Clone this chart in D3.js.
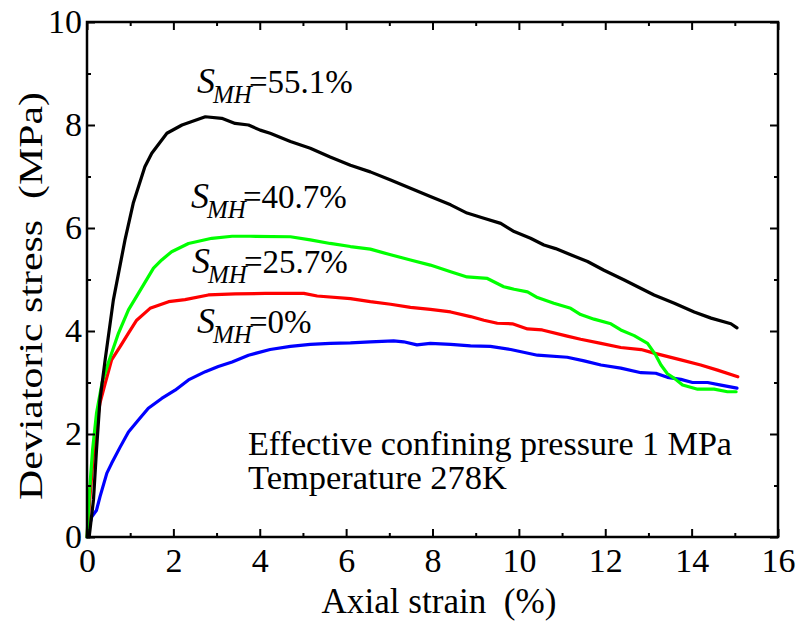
<!DOCTYPE html>
<html>
<head>
<meta charset="utf-8">
<script src="https://cdn.jsdelivr.net/npm/d3@7"></script>
<style>
  body { margin: 0; background: #fff; }
  svg { display: block; }
</style>
</head>
<body>
<svg id="chart" width="801" height="632" font-family="Liberation Serif"></svg>
<script>
// ---- data ----
const strain55 = [0.05, 0.15, 0.22, 0.3, 0.42, 0.61, 0.88, 1.07, 1.34, 1.5, 1.85, 2.2, 2.74, 3.12, 3.43, 3.74, 4.01, 4.24, 4.71, 5.17, 5.63, 6.1, 6.56, 7.03, 7.49, 7.95, 8.42, 8.8, 9.19, 9.58, 9.89, 10.27, 10.58, 10.85, 11.2, 11.59, 11.97, 12.44, 12.75, 13.13, 13.6, 14.06, 14.45, 14.91, 15.05];
const stress55 = [0, 0.72, 1.69, 2.66, 3.44, 4.6, 5.77, 6.48, 7.19, 7.45, 7.84, 8.0, 8.16, 8.13, 8.03, 8.0, 7.9, 7.84, 7.68, 7.55, 7.38, 7.22, 7.09, 6.93, 6.77, 6.61, 6.45, 6.29, 6.19, 6.09, 5.93, 5.8, 5.67, 5.6, 5.48, 5.35, 5.18, 4.99, 4.86, 4.7, 4.54, 4.37, 4.25, 4.14, 4.06];

const strain40 = [0, 0.06, 0.13, 0.22, 0.35, 0.5, 0.73, 0.96, 1.19, 1.54, 1.73, 1.96, 2.35, 2.89, 3.36, 3.78, 4.71, 5.17, 5.63, 6.1, 6.56, 7.03, 7.49, 7.95, 8.42, 8.8, 9.27, 9.65, 9.89, 10.2, 10.43, 10.81, 11.2, 11.43, 11.74, 12.13, 12.36, 12.67, 12.98, 13.17, 13.29, 13.44, 13.6, 13.79, 14.14, 14.52, 14.83, 15.03];
const stress40 = [0, 0.9, 1.7, 2.4, 3.0, 3.4, 3.96, 4.41, 4.73, 5.22, 5.38, 5.54, 5.7, 5.8, 5.84, 5.84, 5.83, 5.77, 5.7, 5.64, 5.59, 5.48, 5.38, 5.28, 5.15, 5.05, 5.02, 4.86, 4.81, 4.76, 4.65, 4.54, 4.44, 4.32, 4.23, 4.14, 4.02, 3.91, 3.76, 3.53, 3.34, 3.17, 3.08, 2.95, 2.87, 2.87, 2.82, 2.82];

const strain25 = [0, 0.08, 0.19, 0.3, 0.42, 0.57, 0.77, 0.96, 1.15, 1.46, 1.89, 2.27, 2.81, 3.43, 4.13, 5.02, 5.33, 6.1, 6.56, 7.03, 7.49, 7.95, 8.42, 8.88, 9.19, 9.5, 9.85, 10.2, 10.54, 11.12, 11.43, 11.9, 12.36, 12.83, 13.13, 13.75, 14.21, 14.6, 15.07];
const stress25 = [0, 0.9, 2.01, 2.6, 2.98, 3.44, 3.7, 3.96, 4.21, 4.44, 4.57, 4.61, 4.7, 4.72, 4.73, 4.73, 4.68, 4.63, 4.57, 4.52, 4.46, 4.42, 4.37, 4.28, 4.21, 4.15, 4.14, 4.04, 4.02, 3.9, 3.84, 3.76, 3.68, 3.64, 3.57, 3.44, 3.34, 3.24, 3.11];

const strain0 = [0, 0.05, 0.11, 0.22, 0.3, 0.46, 0.57, 0.77, 0.96, 1.19, 1.42, 1.73, 2.04, 2.35, 2.74, 3.04, 3.36, 3.74, 4.24, 4.71, 5.17, 5.63, 6.1, 6.56, 7.1, 7.33, 7.64, 7.95, 8.42, 8.88, 9.34, 9.81, 10.43, 11.12, 11.51, 11.9, 12.36, 12.83, 13.17, 13.44, 13.75, 14.02, 14.37, 14.68, 15.05];
const stress0 = [0, 0.2, 0.39, 0.52, 0.78, 1.24, 1.43, 1.75, 2.04, 2.27, 2.5, 2.69, 2.85, 3.05, 3.21, 3.31, 3.4, 3.53, 3.64, 3.7, 3.74, 3.76, 3.77, 3.79, 3.81, 3.79, 3.73, 3.76, 3.74, 3.71, 3.7, 3.64, 3.53, 3.49, 3.42, 3.34, 3.28, 3.19, 3.18, 3.1, 3.06, 3.0, 3.0, 2.95, 2.89];

const seriesNames = ["55.1%", "40.7%", "25.7%", "0%"];
const seriesColors = ["#000000", "#00ff00", "#ff0000", "#0000ff"];
const xTicks = [0, 2, 4, 6, 8, 10, 12, 14, 16];
const yTicks = [0, 2, 4, 6, 8, 10];
const xMinor = [1, 3, 5, 7, 9, 11, 13, 15];
const yMinor = [1, 3, 5, 7, 9];

// ---- layout ----
const FONT = "Liberation Serif";
const svg = d3.select("#chart");
const L = 87, T = 22, R = 778, B = 537;
const x = d3.scaleLinear().domain([0, 16]).range([L, R]);
const y = d3.scaleLinear().domain([0, 10]).range([B, T]);

const series = [
  { name: seriesNames[0], color: seriesColors[0], xs: strain55, ys: stress55, lx: 197, ly: 93 },
  { name: seriesNames[1], color: seriesColors[1], xs: strain40, ys: stress40, lx: 191, ly: 208 },
  { name: seriesNames[2], color: seriesColors[2], xs: strain25, ys: stress25, lx: 192, ly: 273 },
  { name: seriesNames[3], color: seriesColors[3], xs: strain0, ys: stress0, lx: 197, ly: 333 }
];

const line = d3.line().x(d => x(d[0])).y(d => y(d[1]));

const g = svg.append("g");
series.slice().reverse().forEach(s => {
  const pts = s.xs.map((v, i) => [v, s.ys[i]]);
  g.append("path").datum(pts)
    .attr("d", line)
    .attr("fill", "none")
    .attr("stroke", s.color)
    .attr("stroke-width", 3.2)
    .attr("stroke-linejoin", "round")
    .attr("stroke-linecap", "round");
});

function styleAxis(sel) {
  sel.attr("font-family", FONT).attr("font-size", 34);
  sel.select(".domain").remove();
  sel.selectAll("line").attr("stroke", "#000").attr("stroke-width", 2);
  sel.selectAll("text").attr("font-family", FONT).attr("font-size", 34).attr("fill", "#000");
}
svg.append("g").attr("transform", `translate(0,${B})`)
  .call(d3.axisBottom(x).tickValues(xTicks).tickSizeInner(-8).tickSizeOuter(0).tickPadding(11).tickFormat(d3.format("d")))
  .call(styleAxis);
svg.append("g").attr("transform", `translate(0,${B})`)
  .call(d3.axisBottom(x).tickValues(xMinor).tickSizeInner(-4).tickSizeOuter(0).tickFormat(""))
  .call(styleAxis);
svg.append("g").attr("transform", `translate(0,${T})`)
  .call(d3.axisTop(x).tickValues(xTicks).tickSizeInner(-8).tickSizeOuter(0).tickFormat(""))
  .call(styleAxis);
svg.append("g").attr("transform", `translate(0,${T})`)
  .call(d3.axisTop(x).tickValues(xMinor).tickSizeInner(-4).tickSizeOuter(0).tickFormat(""))
  .call(styleAxis);
svg.append("g").attr("transform", `translate(${L},0)`)
  .call(d3.axisLeft(y).tickValues(yTicks).tickSizeInner(-8).tickSizeOuter(0).tickPadding(5).tickFormat(d3.format("d")))
  .call(styleAxis);
svg.append("g").attr("transform", `translate(${L},0)`)
  .call(d3.axisLeft(y).tickValues(yMinor).tickSizeInner(-4).tickSizeOuter(0).tickFormat(""))
  .call(styleAxis);
svg.append("g").attr("transform", `translate(${R},0)`)
  .call(d3.axisRight(y).tickValues(yTicks).tickSizeInner(-8).tickSizeOuter(0).tickFormat(""))
  .call(styleAxis);
svg.append("g").attr("transform", `translate(${R},0)`)
  .call(d3.axisRight(y).tickValues(yMinor).tickSizeInner(-4).tickSizeOuter(0).tickFormat(""))
  .call(styleAxis);

svg.append("rect").attr("x", L).attr("y", T).attr("width", R - L).attr("height", B - T)
  .attr("fill", "none").attr("stroke", "#000").attr("stroke-width", 2.5);

// axis titles
svg.append("text")
  .attr("font-family", FONT).attr("font-size", 35)
  .attr("x", 439).attr("y", 613).attr("text-anchor", "middle")
  .attr("textLength", 235).attr("lengthAdjust", "spacingAndGlyphs")
  .text("Axial strain\u2002(%)");
svg.append("text")
  .attr("font-family", FONT).attr("font-size", 33)
  .attr("transform", "translate(42,296) rotate(-90)")
  .attr("text-anchor", "middle")
  .attr("textLength", 408).attr("lengthAdjust", "spacingAndGlyphs")
  .text("Deviatoric stress\u2002(MPa)");

// series labels
series.forEach(s => {
  const t = svg.append("text").attr("font-family", FONT).attr("x", s.lx).attr("y", s.ly);
  t.append("tspan").attr("font-style", "italic").attr("font-size", 36).text("S");
  t.append("tspan").attr("font-style", "italic").attr("font-size", 25)
    .attr("dx", -2).attr("dy", 10).text("MH");
  t.append("tspan").attr("font-size", 33).attr("dx", -3).attr("dy", -10).text("=" + s.name);
});

// annotation
svg.append("text").attr("font-family", FONT).attr("font-size", 34)
  .attr("x", 248).attr("y", 455)
  .attr("textLength", 484).attr("lengthAdjust", "spacingAndGlyphs")
  .text("Effective confining pressure 1 MPa");
svg.append("text").attr("font-family", FONT).attr("font-size", 34)
  .attr("x", 248).attr("y", 489)
  .attr("textLength", 259).attr("lengthAdjust", "spacingAndGlyphs")
  .text("Temperature 278K");
</script>
</body>
</html>
